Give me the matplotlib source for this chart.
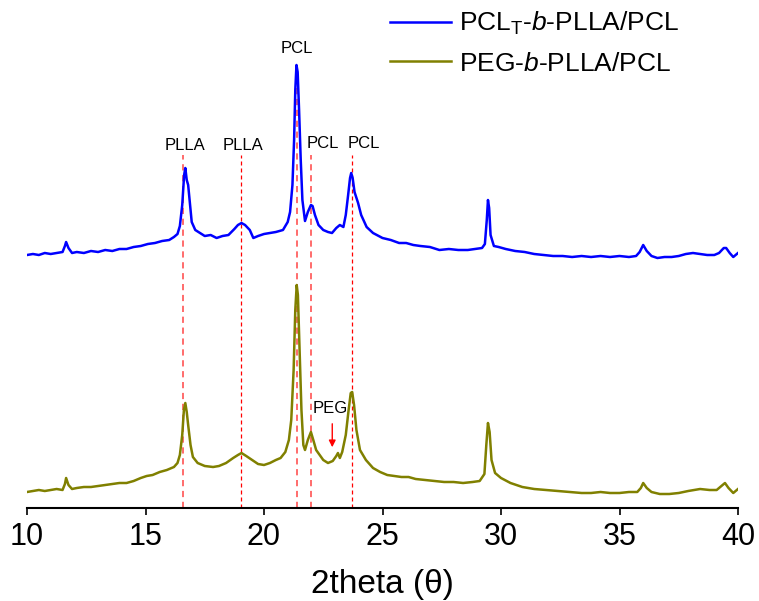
import matplotlib
matplotlib.use("Agg")
import matplotlib.pyplot as plt

plt.rcParams['font.family'] = ['Liberation Sans', 'DejaVu Sans']
plt.rcParams['mathtext.fontset'] = 'custom'
plt.rcParams['mathtext.rm'] = 'Liberation Sans'
plt.rcParams['mathtext.it'] = 'Liberation Sans:italic'

# XRD pattern (intensity in arbitrary units, offset traces)
two_theta_blend_t = [
    10.0, 10.25, 10.5, 10.75, 11.0, 11.25, 11.5, 11.6, 11.65, 11.75, 11.9, 12.1, 12.4, 12.7,
    13.0, 13.3, 13.6, 13.9, 14.2, 14.5, 14.8, 15.1, 15.4, 15.7, 16.0, 16.2, 16.35, 16.45,
    16.55, 16.63, 16.68, 16.74, 16.8, 16.88, 16.95, 17.1, 17.3, 17.5, 17.75, 18.0, 18.25,
    18.5, 18.75, 18.9, 19.05, 19.2, 19.4, 19.55, 19.75, 20.0, 20.25, 20.5, 20.8, 21.0, 21.1,
    21.2, 21.27, 21.32, 21.37, 21.42, 21.48, 21.55, 21.62, 21.73, 21.85, 21.98, 22.05, 22.15,
    22.3, 22.5, 22.7, 22.87, 23.05, 23.2, 23.35, 23.45, 23.55, 23.63, 23.68, 23.74, 23.82,
    23.97, 24.1, 24.33, 24.6, 25.0, 25.35, 25.7, 26.0, 26.3, 26.6, 27.0, 27.4, 27.8, 28.2,
    28.6, 28.9, 29.2, 29.32, 29.4, 29.45, 29.5, 29.56, 29.7, 29.9, 30.2, 30.6, 31.0, 31.4,
    31.8, 32.2, 32.6, 33.0, 33.4, 33.8, 34.2, 34.6, 35.0, 35.4, 35.7, 35.85, 36.0, 36.15,
    36.35, 36.6, 36.9, 37.2, 37.5, 37.8, 38.1, 38.4, 38.7, 39.0, 39.2, 39.4, 39.5, 39.65,
    39.8, 39.9, 40.0,
]
intensity_blend_t = [
    253, 254, 253, 255, 254, 255, 256, 262, 266, 260, 255, 256, 255, 257,
    256, 258, 257, 259, 259, 261, 262, 264, 265, 267, 268, 271, 274, 282,
    303, 333, 340, 328, 323, 303, 286, 278, 275, 272, 273, 270, 272,
    273, 279, 283, 285, 283, 278, 270, 272, 274, 275, 276, 278, 286, 296,
    323, 368, 418, 443, 436, 398, 348, 308, 287, 296, 303, 302, 293,
    283, 278, 276, 275, 280, 283, 281, 293, 313, 330, 335, 330, 316,
    305, 293, 281, 275, 270, 268, 265, 265, 263, 262, 261, 258, 259, 258,
    258, 259, 260, 264, 288, 308, 300, 273, 262, 261, 259, 257, 256, 254,
    253, 252, 252, 251, 252, 251, 252, 251, 252, 251, 252, 256, 263, 257,
    252, 250, 251, 251, 252, 254, 255, 254, 253, 253, 255, 260, 260, 255,
    251, 253, 255,
]

two_theta_blend_p = [
    10.0, 10.25, 10.5, 10.75, 11.0, 11.25, 11.5, 11.6, 11.65, 11.75, 11.9, 12.1, 12.4, 12.7,
    13.0, 13.3, 13.6, 13.9, 14.2, 14.5, 14.8, 15.05, 15.3, 15.6, 15.9, 16.2, 16.35, 16.45,
    16.55, 16.62, 16.68, 16.74, 16.8, 16.9, 17.0, 17.2, 17.5, 17.85, 18.1, 18.4, 18.7, 18.9,
    19.05, 19.25, 19.5, 19.75, 20.0, 20.25, 20.5, 20.7, 20.9, 21.05, 21.15, 21.25, 21.32,
    21.38, 21.43, 21.5, 21.58, 21.66, 21.73, 21.85, 21.98, 22.08, 22.2, 22.35, 22.5, 22.7,
    22.9, 23.05, 23.12, 23.2, 23.3, 23.45, 23.57, 23.66, 23.72, 23.8, 23.9, 24.05, 24.3,
    24.6, 24.9, 25.2, 25.5, 25.8, 26.1, 26.4, 26.8, 27.2, 27.6, 28.0, 28.4, 28.8, 29.1,
    29.3, 29.38, 29.45, 29.52, 29.6, 29.75, 30.0, 30.4, 30.9, 31.4, 31.9, 32.4, 32.9, 33.4,
    33.8, 34.2, 34.6, 35.0, 35.4, 35.75, 35.9, 36.0, 36.15, 36.35, 36.7, 37.1, 37.5, 37.9,
    38.4, 38.8, 39.1, 39.3, 39.45, 39.6, 39.8, 40.0,
]
intensity_blend_p = [
    16, 17, 18, 17, 18, 19, 18, 24, 30, 23, 19, 20, 21, 21,
    22, 23, 24, 25, 25, 27, 30, 32, 33, 36, 38, 41, 45, 53,
    73, 98, 105, 96, 83, 63, 51, 45, 42, 41, 42, 45, 50, 53,
    55, 52, 48, 44, 43, 45, 48, 50, 56, 68, 88, 138, 198,
    223, 213, 158, 98, 63, 58, 68, 76, 68, 58, 53, 48, 45,
    47, 52, 55, 50, 56, 73, 98, 115, 116, 103, 78, 58, 48,
    40, 36, 33, 32, 31, 31, 29, 28, 27, 26, 26, 25, 26, 27,
    34, 63, 85, 76, 48, 35, 30, 25, 21, 19, 18, 17, 16, 15,
    15, 16, 15, 15, 16, 16, 20, 25, 20, 16, 14, 14, 15, 17,
    19, 18, 18, 22, 25, 20, 15, 19,
]

# reflection markers: position, label, label position, line top
peak_pos = [16.6, 19.05, 21.4, 22.0, 23.7]
peak_names = ['PLLA', 'PLLA', 'PCL', 'PCL', 'PCL']
label_x = [16.65, 19.13, 21.4, 22.5, 24.2]
label_y = [358, 358, 455, 360, 360]
line_top = [353, 353, 446, 353, 353]
line_colors = ['#ff6b6b', 'red', '#ff6b6b', '#ff6b6b', 'red']
line_widths = [1.4, 0.9, 1.4, 1.4, 0.9]

fig = plt.figure(figsize=(7.59, 6.01), dpi=100)
ax = fig.add_axes([27 / 759, 93 / 601, 711 / 759, 508 / 601])

for x, top, c, w in zip(peak_pos, line_top, line_colors, line_widths):
    ax.plot([x, x], [0, top], color=c, lw=w, ls=(0, (3.2, 2.4)), zorder=1)

ax.plot(two_theta_blend_t, intensity_blend_t, color='#0000ff', lw=1.8,
        label=r'PCL$_\mathrm{T}$-$\mathit{b}$-PLLA/PCL', zorder=2)
ax.plot(two_theta_blend_p, intensity_blend_p, color='#808000', lw=1.8,
        label=r'PEG-$\mathit{b}$-PLLA/PCL', zorder=2)

for name, x, y in zip(peak_names, label_x, label_y):
    ax.text(x, y, name, ha='center', va='baseline', fontsize=12)

ax.text(22.8, 95, 'PEG', ha='center', va='baseline', fontsize=12)
ax.annotate('', xy=(22.88, 58), xytext=(22.88, 87),
            arrowprops=dict(arrowstyle='-|>', color='red', lw=1, mutation_scale=10))

ax.set_xlim(10, 40)
ax.set_ylim(0, 508)
ax.set_xticks([10, 15, 20, 25, 30, 35, 40])
ax.set_yticks([])
for s in ['left', 'right', 'top']:
    ax.spines[s].set_visible(False)
ax.spines['bottom'].set_linewidth(1.5)
ax.tick_params(axis='x', direction='out', length=5, width=1.2, labelsize=22, pad=5)
ax.set_xlabel('2theta (\u03b8)', fontsize=24, labelpad=12)

ax.legend(loc='upper left', bbox_to_anchor=(390 / 759, 1 - 10 / 601),
          bbox_transform=fig.transFigure, frameon=False, fontsize=19,
          handlelength=2.3, handletextpad=0.3, borderpad=0, borderaxespad=0,
          labelspacing=0.55)

fig.savefig('out.png', dpi=100)
